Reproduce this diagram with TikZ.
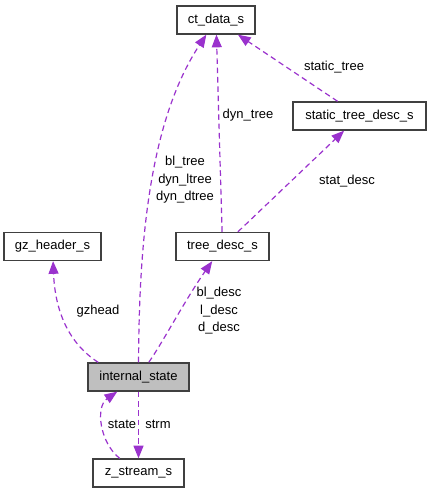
\documentclass[tikz,border=0pt]{standalone}
\usepackage{fontspec}
\setmainfont{Liberation Sans}
\usetikzlibrary{arrows.meta}
\definecolor{edgepurple}{HTML}{9A32CD}
\definecolor{boxgray}{HTML}{404040}
\definecolor{fillgray}{HTML}{BFBFBF}
\tikzset{cls/.style = {draw = boxgray, line width = 1pt, fill = white, inner sep = 0,
                       minimum height = 21pt, font = \fontsize{9.75}{12}\selectfont}}
\tikzset{rel/.style = {draw = edgepurple, line width = 0.9pt, dash pattern = on 4.2pt off 2.8pt,
                       -{Triangle[length = 9.5pt, width = 7.5pt]}}}
\tikzset{lbl/.style = {inner sep = 0, align = center, font = \fontsize{9.75}{13.1}\selectfont}}
\begin{document}
\begin{tikzpicture}[x = 0.75pt, y = -0.75pt]
      \useasboundingbox (0, 0) rectangle (431, 493);
      \node [cls, minimum width = 58.5pt] (ct) at (216, 20) {ct\_data\_s};
      \node [cls, minimum width = 99.75pt] (st) at (359.5, 116) {static\_tree\_desc\_s};
      \node [cls, minimum width = 72.75pt] (gz) at (52.5, 246.5) {gz\_header\_s};
      \node [cls, minimum width = 69.75pt] (tree) at (222.5, 246.5) {tree\_desc\_s};
      \node [cls, minimum width = 75.75pt, fill = fillgray] (int) at (138.5, 377) {internal\_state};
      \node [cls, minimum width = 68.25pt] (zs) at (138.5, 473) {z\_stream\_s};
      \draw [rel] (int) .. controls (139, 240) and (150, 120) .. (ct);
      \draw [rel] (tree) -- (ct);
      \draw [rel] (st) -- (ct);
      \draw [rel] (tree) -- (st);
      \draw [rel] (int.160) .. controls (68, 343) and (55, 310) .. (gz);
      \draw [rel] (int) .. controls (163, 342) and (185, 300) .. (tree);
      \draw [rel] (int) -- (zs);
      \draw [rel] (zs) .. controls (100, 443) and (95, 407) .. (int);
      \node [lbl] (ltrees) at (185, 180) {bl\_tree\\dyn\_ltree\\dyn\_dtree};
      \node [lbl] (ldyn) at (248, 115) {dyn\_tree};
      \node [lbl] (lstatic) at (334, 67) {static\_tree};
      \node [lbl] (lstat) at (347, 181) {stat\_desc};
      \node [lbl] (lgz) at (98, 311) {gzhead};
      \node [lbl] (ldescs) at (219, 311) {bl\_desc\\l\_desc\\d\_desc};
      \node [lbl] (lstate) at (122, 424) {state};
      \node [lbl] (lstrm) at (158, 424) {strm};
    \end{tikzpicture}
\end{document}
